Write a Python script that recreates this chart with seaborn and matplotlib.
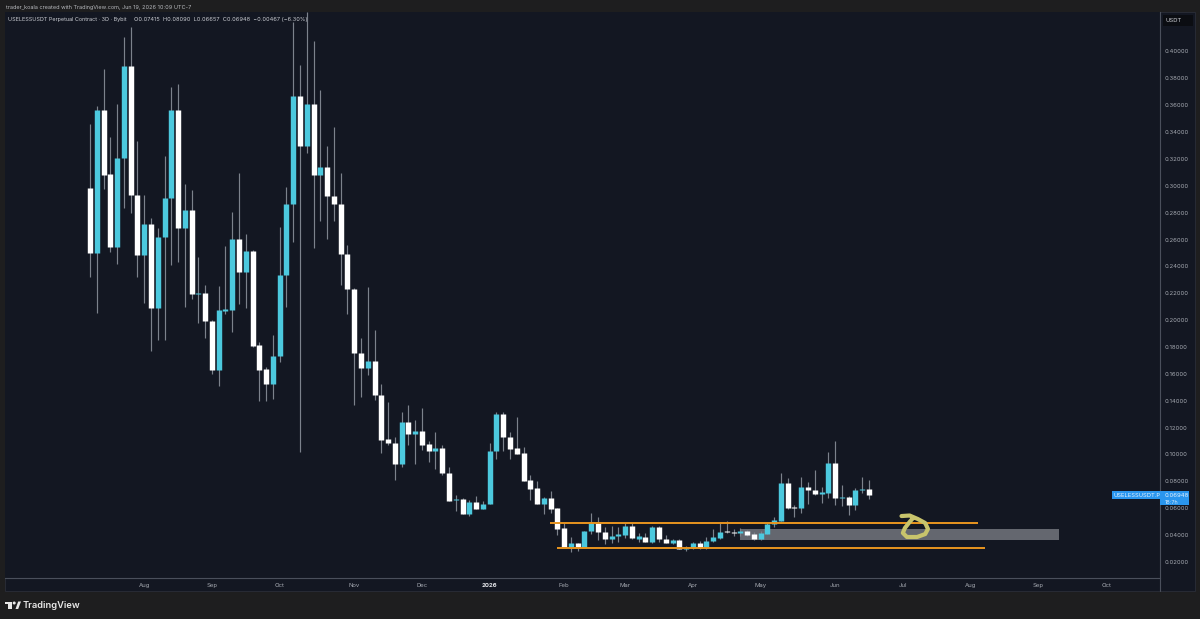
import matplotlib
matplotlib.use("Agg")
import matplotlib.pyplot as plt
from matplotlib.patches import Rectangle, Polygon, Circle
import pandas as pd
import seaborn as sns

# 3-day USELESSUSDT candles, oldest first
opens = [
    .2986, .2497, .3564, .3088, .2542, .3209, .3894, .2932, .2487, .2712,
    .2088, .2619, .2911, .3564, .2688, .2822, .2194, .2204, .1993, .1628,
    .2070, .2075, .2602, .2356, .2517, .1812, .1634, .1526, .1735, .2336,
    .2867, .3669, .3296, .3607, .3083, .3138, .2926, .2868, .2491, .2234,
    .1757, .1643, .1698, .1442, .1112, .1087, .0928, .1241, .1150, .1174,
    .1077, .1023, .1045, .0864, .0660, .0670, .0558, .0646, .0596, .0628,
    .1023, .1303, .1132, .1045, .1010, .0809, .0748, .0631, .0675, .0601,
    .0452, .0308, .0338, .0311, .0426, .0492, .0424, .0368, .0395, .0402,
    .0467, .0372, .0387, .0350, .0462, .0370, .0338, .0361, .0298, .0301,
    .0343, .0301, .0355, .0380, .0427, .0422, .0417, .0432, .0405, .0370,
    .0411, .0479, .0504, .0789, .0608, .0599, .0757, .0735, .0705, .0715,
    .0936, .0675, .0685, .0626, .0733, .07415,
]
closes = [
    .2497, .3564, .3083, .2542, .3209, .3894, .2932, .2487, .2712, .2088,
    .2619, .2911, .3564, .2688, .2822, .2194, .2204, .1993, .1628, .2075,
    .2080, .2602, .2356, .2517, .1807, .1628, .1526, .1735, .2336, .2867,
    .3669, .3296, .3607, .3083, .3138, .2924, .2868, .2491, .2234, .1753,
    .1643, .1698, .1442, .1107, .1087, .0928, .1241, .1150, .1174, .1072,
    .1023, .1045, .0859, .0655, .0670, .0558, .0646, .0596, .0631, .1025,
    .1303, .1127, .1040, .1005, .0804, .0745, .0631, .0675, .0596, .0445,
    .0308, .0338, .0311, .0426, .0492, .0424, .0368, .0395, .0405, .0467,
    .0375, .0390, .0350, .0462, .0368, .0338, .0363, .0298, .0303, .0343,
    .0301, .0358, .0383, .0424, .0420, .0417, .0430, .0400, .0370, .0415,
    .0484, .0508, .0789, .0599, .0601, .0757, .0733, .0703, .0718, .0936,
    .0675, .0685, .0626, .0737, .0740, .06948,
]
highs = [
    .3460, .3594, .3870, .3366, .3609, .4110, .4183, .3336, .2932, .2760,
    .2686, .3222, .3738, .3758, .3013, .2969, .2468, .2261, .1999, .2256,
    .2554, .2807, .3098, .2639, .2525, .1839, .1651, .1889, .2696, .2993,
    .4222, .3899, .4291, .4076, .3713, .3299, .3440, .3098, .2559, .2239,
    .1865, .2244, .1926, .1524, .1392, .1130, .1314, .1368, .1256, .1343,
    .1100, .1165, .1070, .0908, .0698, .0675, .0661, .0690, .0655, .1087,
    .1314, .1314, .1169, .1276, .1057, .0847, .0802, .0685, .0727, .0601,
    .0487, .0383, .0338, .0433, .0561, .0532, .0457, .0467, .0462, .0492,
    .0492, .0412, .0417, .0467, .0467, .0400, .0372, .0368, .0318, .0350,
    .0358, .0383, .0442, .0492, .0504, .0445, .0454, .0440, .0420, .0430,
    .0499, .0536, .0864, .0822, .0623, .0834, .0792, .0884, .0759, .1016,
    .1100, .0772, .0690, .0748, .0834, .08090,
]
lows = [
    .2323, .2055, .2976, .2509, .2418, .2835, .2798, .2321, .2127, .1772,
    .1852, .1852, .2410, .2435, .2100, .2157, .1978, .1867, .1599, .1509,
    .2045, .1914, .2120, .2092, .1800, .1400, .1398, .1415, .1690, .2100,
    .2584, .1018, .3242, .2535, .2740, .2602, .2740, .2261, .2049, .1368,
    .1427, .1591, .1405, .1013, .1070, .0809, .0908, .1070, .0928, .1033,
    .0941, .0889, .0849, .0653, .0581, .0554, .0541, .0591, .0591, .0628,
    .0968, .1023, .0963, .1001, .0802, .0661, .0631, .0554, .0561, .0400,
    .0308, .0271, .0283, .0311, .0405, .0363, .0335, .0343, .0350, .0375,
    .0368, .0350, .0350, .0338, .0350, .0338, .0335, .0298, .0283, .0298,
    .0298, .0298, .0350, .0372, .0412, .0395, .0395, .0395, .0363, .0363,
    .0405, .0457, .0504, .0591, .0532, .0566, .0631, .0700, .0640, .0673,
    .0621, .0618, .0551, .0586, .0715, .06657,
]

# Time axis: bar number at which each month label sits
month_bars = [8, 18, 28, 39, 49, 59, 70, 79, 89, 99, 110, 120, 130, 140, 150]
month_labels = ["Aug", "Sep", "Oct", "Nov", "Dec", "2026", "Feb", "Mar", "Apr",
                "May", "Jun", "Jul", "Aug", "Sep", "Oct"]
price_ticks = [0.02, 0.04, 0.06, 0.08, 0.10, 0.12, 0.14, 0.16, 0.18, 0.20,
               0.22, 0.24, 0.26, 0.28, 0.30, 0.32, 0.34, 0.36, 0.38, 0.40]

# Hand-drawn annotations, in bar number / price
range_top = (67.9, 131.1, 0.04915)
range_bottom = (68.9, 132.1, 0.0303)
zone = (96.0, 143.0, 0.0366, 0.04425)
scribble_bars = [119.8, 121.0, 122.2, 123.3, 123.7, 123.3, 122.1, 120.6, 120.0, 120.3, 121.0, 121.5]
scribble_prices = [.0541, .0545, .0519, .0489, .0445, .0407, .0385, .0385, .0415, .0452, .0497, .0526]

PANEL = "#131722"
OUTER = "#1e1e1f"
UP = "#4cc9de"
DOWN = "#ffffff"
WICK = "#7c828c"
AXIS_TEXT = "#a4a8b0"
RULE = "#4a4f5b"
ORANGE = "#e8951f"
SMALL = 4.3

sns.set_theme(style="dark", rc={"axes.facecolor": PANEL, "figure.facecolor": OUTER})
plt.rcParams["font.family"] = ["Inter", "DejaVu Sans"]

fig = plt.figure(figsize=(12, 6.19), dpi=100)
W, H = 1200, 619
ax = fig.add_axes([5 / W, 1 - 578 / H, 1155 / W, 566 / H])

candles = pd.DataFrame({"bar": range(len(opens)), "open": opens, "high": highs,
                        "low": lows, "close": closes})
candles["side"] = ["up" if c >= o else "down" for o, c in zip(opens, closes)]
palette = {"up": UP, "down": DOWN}

wicks = candles.melt(id_vars=["bar", "side"], value_vars=["high", "low"], value_name="price")
bodies = candles.melt(id_vars=["bar", "side"], value_vars=["open", "close"], value_name="price")

sns.lineplot(data=wicks, x="bar", y="price", units="bar", estimator=None, color=WICK,
             linewidth=0.85, solid_capstyle="butt", legend=False, ax=ax, zorder=3)
sns.lineplot(data=bodies, x="bar", y="price", units="bar", hue="side", palette=palette,
             estimator=None, linewidth=3.9, solid_capstyle="butt", legend=False, ax=ax, zorder=4)

# Support zone and range rails
ax.add_patch(Rectangle((zone[0], zone[2]), zone[1] - zone[0], zone[3] - zone[2],
                       facecolor="#64676f", edgecolor="none", zorder=2))
for start, end, level in (range_top, range_bottom):
    ax.plot([start, end], [level, level], color=ORANGE, linewidth=1.4,
            solid_capstyle="butt", zorder=5)
sns.lineplot(x=scribble_bars, y=scribble_prices, sort=False, estimator=None, color="#c8c46c",
             linewidth=3.0, solid_capstyle="round", solid_joinstyle="round", ax=ax, zorder=6)

ax.set_xlim(-12.55, 157.96)
ax.set_ylim(0.00797, 0.4294)
ax.yaxis.tick_right()
ax.set_yticks(price_ticks, [f"{p:.5f}" for p in price_ticks])
ax.set_xticks(month_bars, month_labels)
ax.set_xlabel("")
ax.set_ylabel("")
ax.grid(False)
ax.tick_params(axis="y", length=0, pad=3.6, labelsize=SMALL, labelcolor=AXIS_TEXT)
ax.tick_params(axis="x", length=0, pad=3.5, labelsize=SMALL, labelcolor=AXIS_TEXT)
for label in ax.get_xticklabels():
    if label.get_text() == "2026":
        label.set_fontweight("bold")
        label.set_color("#e6e8ec")
for name, spine in ax.spines.items():
    spine.set_color(RULE)
    spine.set_linewidth(0.8)
    spine.set_visible(name in ("right", "bottom"))

# Pixel-coordinate layer for the window furniture
chrome = fig.add_axes([0, 0, 1, 1], zorder=5)
chrome.set_xlim(0, W)
chrome.set_ylim(H, 0)
chrome.axis("off")
fig.add_artist(Rectangle((5 / W, 1 - 591 / H), 1190 / W, 579 / H, transform=fig.transFigure,
                         facecolor=PANEL, edgecolor="#2a2e38", linewidth=0.6, zorder=-1))
chrome.plot([1160, 1160], [578, 591], color=RULE, linewidth=0.8)

chrome.text(6, 7, "trader_koala created with TradingView.com, Jun 19, 2026 10:09 UTC-7",
            color="#b4b6ba", fontsize=4.0, va="center")
chrome.text(8, 20, "USELESSUSDT Perpetual Contract · 3D · Bybit", color="#c8cad0",
            fontsize=3.95, va="center")
chrome.text(133.5, 20, "O0.07415  H0.08090  L0.06657  C0.06948  −0.00467 (−6.30%)",
            color="#c8cad0", fontsize=4.05, va="center")

chrome.add_patch(Rectangle((1163, 15), 30, 11, facecolor="#0b0d12", edgecolor="none"))
chrome.text(1166, 20.5, "USDT", color="#c8cad0", fontsize=SMALL, va="center")

# Last-price tags follow the final close
last_y = chrome.transData.inverted().transform(ax.transData.transform((0, closes[-1])))[1]
TAG = "#2a96ee"
chrome.add_patch(Rectangle((1112, last_y - 4), 48, 8, facecolor=TAG, edgecolor="none"))
chrome.add_patch(Rectangle((1160, last_y - 4), 29, 14, facecolor=TAG, edgecolor="none"))
chrome.text(1113.5, last_y, "USELESSUSDT.P", color="#e4f1fd", fontsize=4.2, va="center")
chrome.text(1164.5, last_y, f"{closes[-1]:.5f}", color="#e4f1fd", fontsize=SMALL, va="center")
chrome.text(1164.5, last_y + 7, "18:7h", color="#cfe6fb", fontsize=4.0, va="center")

# TradingView wordmark
logo = "#e8e8e8"
chrome.add_patch(Rectangle((5, 601.5), 7, 2.8, facecolor=logo, edgecolor="none"))
chrome.add_patch(Rectangle((8.4, 601.5), 3.6, 7.5, facecolor=logo, edgecolor="none"))
chrome.add_patch(Circle((14.2, 603), 1.5, facecolor=logo, edgecolor="none"))
chrome.add_patch(Polygon([(15.5, 609), (18.2, 601.5), (21, 601.5), (18.2, 609)],
                         facecolor=logo, edgecolor="none"))
chrome.text(23, 605, "TradingView", color=logo, fontsize=6.7, fontweight="semibold", va="center")

fig.savefig("out.png", dpi=100, facecolor=OUTER)
